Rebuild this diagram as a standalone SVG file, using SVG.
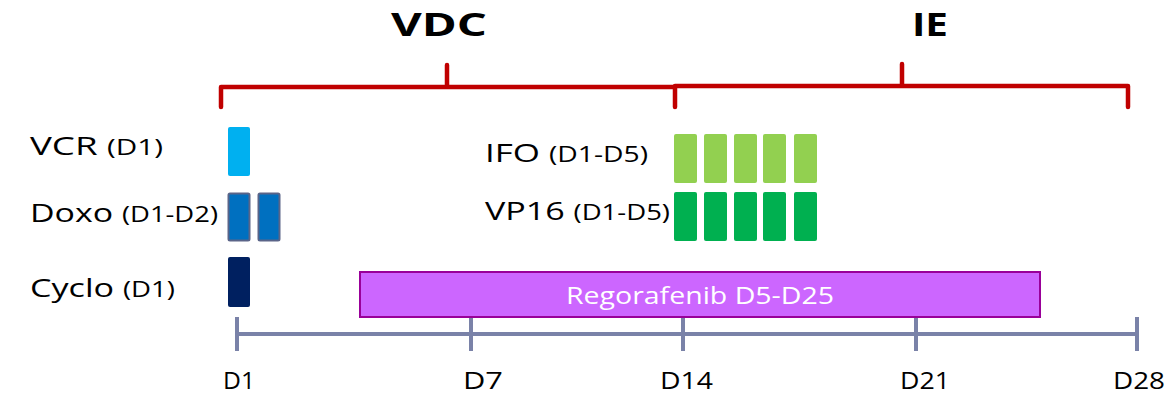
<svg xmlns="http://www.w3.org/2000/svg" width="1172" height="396" viewBox="0 0 1172 396">
<style>
.t{font-family:"Open Sans",Lato,"Liberation Sans",sans-serif;fill:#000}
.big{font-size:26px}
.sm{font-size:21px}
.ax-l{font-size:24px}
.title{font-family:"Open Sans","Liberation Sans",Arial,sans-serif;font-weight:bold;font-size:32px;fill:#000}
.br{fill:none;stroke:#C00000;stroke-width:4.5;stroke-linecap:round;stroke-linejoin:round}
.ax{fill:none;stroke:#7A82A8;stroke-width:4}
</style>
<rect width="1172" height="396" fill="#fff"/>
<g id="titles">
<text class="title" x="391" y="36" textLength="96" lengthAdjust="spacingAndGlyphs">VDC</text>
<text class="title" x="912" y="36" textLength="36" lengthAdjust="spacingAndGlyphs">IE</text>
</g>
<g id="connectors">
<path class="br" d="M221,107 V87 H675 V107 M447,87 V65"/>
<path class="br" d="M675,86 H1128 V107 M902,86 V64"/>
<path class="ax" d="M237,334 H1137 M237,317 V351 M471,317 V351 M683,317 V351 M916,317 V351 M1137,317 V351"/>
</g>
<g id="vcr">
<text class="t" x="30" y="155" textLength="133" lengthAdjust="spacingAndGlyphs"><tspan class="big">VCR </tspan><tspan class="sm">(D1)</tspan></text>
<rect x="228" y="127" width="22" height="49" rx="2" fill="#00B0F0"/>
</g>
<g id="doxo">
<text class="t" x="30" y="222" textLength="188" lengthAdjust="spacingAndGlyphs"><tspan class="big">Doxo </tspan><tspan class="sm">(D1-D2)</tspan></text>
<rect x="228.5" y="193.5" width="21" height="47" rx="1.5" fill="#0070C0" stroke="#5A6488" stroke-width="2"/>
<rect x="258.5" y="193.5" width="21" height="47" rx="1.5" fill="#0070C0" stroke="#5A6488" stroke-width="2"/>
</g>
<g id="cyclo">
<text class="t" x="30" y="297" textLength="145" lengthAdjust="spacingAndGlyphs"><tspan class="big">Cyclo </tspan><tspan class="sm">(D1)</tspan></text>
<rect x="228" y="257" width="22" height="50" rx="2" fill="#002060"/>
</g>
<g id="ifo">
<text class="t" x="485" y="162" textLength="163" lengthAdjust="spacingAndGlyphs"><tspan class="big">IFO </tspan><tspan class="sm">(D1-D5)</tspan></text>
<g fill="#92D050">
<rect x="674" y="134" width="23" height="49" rx="2"/>
<rect x="704" y="134" width="23" height="49" rx="2"/>
<rect x="734" y="134" width="23" height="49" rx="2"/>
<rect x="763" y="134" width="23" height="49" rx="2"/>
<rect x="794" y="134" width="23" height="49" rx="2"/>
</g>
</g>
<g id="vp16">
<text class="t" x="485" y="220" textLength="185" lengthAdjust="spacingAndGlyphs"><tspan class="big">VP16 </tspan><tspan class="sm">(D1-D5)</tspan></text>
<g fill="#00B050">
<rect x="674" y="192" width="23" height="49" rx="2"/>
<rect x="704" y="192" width="23" height="49" rx="2"/>
<rect x="734" y="192" width="23" height="49" rx="2"/>
<rect x="763" y="192" width="23" height="49" rx="2"/>
<rect x="794" y="192" width="23" height="49" rx="2"/>
</g>
</g>
<g id="regorafenib">
<rect x="360" y="272" width="680" height="45" fill="#CC66FF" stroke="#990099" stroke-width="2"/>
<text class="t" x="566" y="304" font-size="24" textLength="268" lengthAdjust="spacingAndGlyphs" style="fill:#fff">Regorafenib D5-D25</text>
</g>
<g id="axis-labels">
<text class="t ax-l" x="223" y="389" textLength="32" lengthAdjust="spacingAndGlyphs">D1</text>
<text class="t ax-l" x="463" y="389" textLength="40" lengthAdjust="spacingAndGlyphs">D7</text>
<text class="t ax-l" x="660" y="389" textLength="53" lengthAdjust="spacingAndGlyphs">D14</text>
<text class="t ax-l" x="900" y="389" textLength="50" lengthAdjust="spacingAndGlyphs">D21</text>
<text class="t ax-l" x="1113" y="389" textLength="52" lengthAdjust="spacingAndGlyphs">D28</text>
</g>
</svg>
